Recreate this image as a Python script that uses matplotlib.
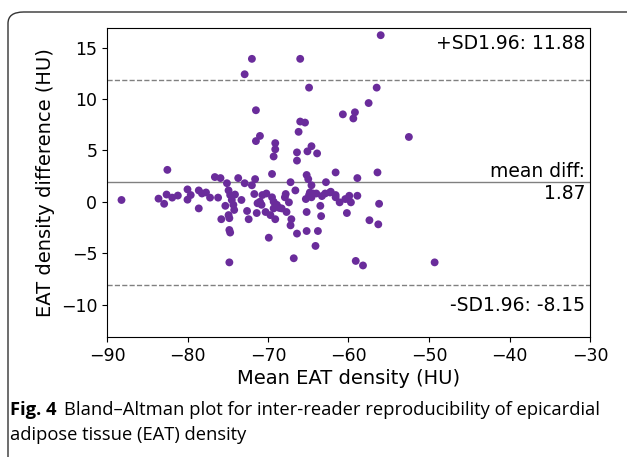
import matplotlib
matplotlib.use("Agg")
import matplotlib.pyplot as plt
from matplotlib.patches import FancyBboxPatch

# Leituras aproximadas do gráfico (média, diferença)
mean_vals = [
    -88.2, -83.6, -82.9, -82.6, -82.5, -81.9, -81.2, -80.0, -80.0, -79.6,
    -78.6, -78.6, -78.2, -77.7, -77.2, -76.6, -75.9, -76.2, -75.8, -75.1,
    -74.9, -74.7, -75.3, -74.9, -74.8, -74.7, -74.8, -74.5, -74.3, -74.1,
    -74.2, -73.7, -73.3, -72.9, -72.6, -72.4, -72.0, -71.6, -71.7, -71.3,
    -71.4, -71.0, -70.7, -70.2, -70.3, -69.9, -69.7, -69.5, -69.5, -69.3,
    -69.1, -68.9, -68.6, -68.3, -67.9, -67.8, -67.4, -67.2, -67.1, -67.2,
    -66.6, -66.4, -66.8, -65.2, -65.0, -64.6, -65.3, -64.9, -64.8, -64.4,
    -64.0, -65.2, -65.2, -63.8, -64.1, -63.5, -63.4, -62.8, -62.9, -62.3,
    -61.6, -61.6, -61.1, -60.2, -60.0, -59.9, -59.7, -58.9, -58.9, -56.4,
    -56.2, -57.4, -56.3, -59.1, -58.2, -49.3, -72.0, -72.9, -66.0, -64.9,
    -71.5, -71.5, -71.0, -69.1, -69.1, -69.3, -66.0, -65.4, -66.2, -66.4,
    -66.4, -65.1, -64.6, -63.9, -60.7, -56.0, -56.5, -57.5, -59.2, -59.4,
    -52.5, -61.6, -62.2, -60.4, -63.3, -70.8, -69.3, -67.7, -74.8, -64.6,
]
diff_vals = [
    0.17, 0.3, -0.2, 0.7, 3.1, 0.4, 0.6, 0.2, 1.2, 0.65,
    -0.65, 1.1, 0.8, 0.9, 0.4, 2.4, 2.3, 0.4, -1.7, 1.8,
    1.1, 0.65, -0.4, -1.3, -2.75, -3.0, -5.9, 0.17, -0.3, 0.7,
    -0.8, 2.3, 0.17, 1.8, -0.9, -1.7, 1.6, 2.2, 0.75, -0.15,
    -1.1, 0.0, 0.65, 0.8, -1.0, -3.5, -1.3, 2.7, 0.43, 0.0,
    -1.7, -0.3, -0.6, -0.65, 0.43, 0.75, -0.06, -2.3, -1.7, 1.9,
    1.1, -3.1, -5.5, 2.6, 2.2, 1.6, 0.26, 0.65, 0.9, 0.8,
    0.8, -1.0, -2.85, -2.85, -4.3, -0.4, -1.4, 1.9, 0.8, 0.9,
    0.43, 2.85, -0.06, -1.1, 0.26, 0.58, -0.06, 0.58, 2.3, 2.85,
    -0.2, -1.8, -2.2, -5.76, -6.2, -5.9, 13.9, 12.4, 13.9, 11.1,
    8.9, 5.9, 6.4, 5.7, 5.1, 4.4, 7.8, 7.7, 6.8, 4.8,
    4.0, 4.9, 5.4, 4.7, 8.5, 16.2, 11.1, 9.6, 8.7, 8.1,
    6.3, 0.65, 0.97, 0.26, 0.55, -0.3, -0.65, -1.0, -1.6, 0.43,
]

mean_diff = 1.87
upper_sd = 11.88
lower_sd = -8.15
sd_limit = 1.96
x_limits = (-90, -30)
x_ticks = [-90, -80, -70, -60, -50, -40, -30]
y_ticks = [-10, -5, 0, 5, 10, 15]

fig = plt.figure(figsize=(6.27, 4.57), dpi=100)

# Moldura arredondada da figura (estilo artigo)
fig.patches.append(FancyBboxPatch(
    (8 / 627, -0.05), 1.2, (457 - 12) / 457 + 0.05,
    boxstyle="round,pad=0,rounding_size=0.025",
    transform=fig.transFigure, facecolor="none",
    edgecolor="#333333", linewidth=1.0, clip_on=False,
))

ax = fig.add_axes([107 / 627, 1 - 337 / 457, (590 - 107) / 627, (337 - 28) / 457])

ax.scatter(mean_vals, diff_vals, s=32, color="#6a2c9b", edgecolors="none", zorder=3)

ax.axhline(mean_diff, color="gray", linewidth=1)
ax.axhline(upper_sd, color="gray", linewidth=1, linestyle="--")
ax.axhline(lower_sd, color="gray", linewidth=1, linestyle="--")

half_ylim = (mean_diff - lower_sd) * 1.5
ax.set_ylim(mean_diff - half_ylim, mean_diff + half_ylim)
ax.set_xlim(*x_limits)
ax.set_xticks(x_ticks)
ax.set_yticks(y_ticks)

ax.annotate(f"mean diff:\n{mean_diff}", xy=(0.99, 0.5), xycoords="axes fraction",
            ha="right", va="center", fontsize=13.5)
ax.annotate(f"-SD{sd_limit}: {lower_sd}", xy=(0.99, 0.07), xycoords="axes fraction",
            ha="right", va="bottom", fontsize=13.5)
ax.annotate(f"+SD{sd_limit}: {upper_sd}", xy=(0.99, 0.92), xycoords="axes fraction",
            ha="right", va="bottom", fontsize=13.5)

ax.tick_params(labelsize=12.5)
ax.set_xlabel("Mean EAT density (HU)", fontsize=14, labelpad=3)
ax.set_ylabel("EAT density difference (HU)", fontsize=14, labelpad=4)

# Legenda da figura
fig.canvas.draw()
renderer = fig.canvas.get_renderer()
t_bold = fig.text(10 / 627, 1 - 415 / 457, "Fig. 4", fontsize=13.2, fontweight="bold",
                  family="Open Sans", va="baseline")
bb = t_bold.get_window_extent(renderer=renderer)
fig.text((bb.x1 + 8) / 627, 1 - 415 / 457,
         "Bland\u2013Altman plot for inter-reader reproducibility of epicardial",
         fontsize=13.2, family="Open Sans", va="baseline")
fig.text(10 / 627, 1 - 440 / 457, "adipose tissue (EAT) density",
         fontsize=13.2, family="Open Sans", va="baseline")

fig.savefig("out.png", dpi=100)
